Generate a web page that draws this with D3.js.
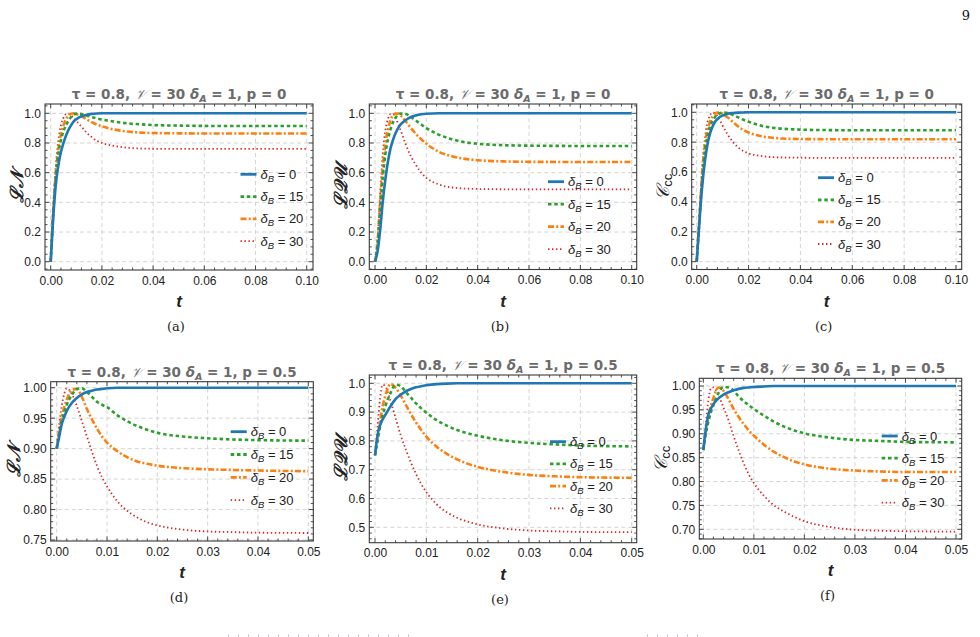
<!DOCTYPE html>
<html><head><meta charset="utf-8">
<script src="https://cdn.jsdelivr.net/npm/d3@7"></script>
<style>body{margin:0;background:#fff}</style>
</head><body>
<svg id="chart" width="980" height="637" xmlns="http://www.w3.org/2000/svg"></svg>
<script>
// ---------- data ----------
const tP0 = [0,0.001,0.002,0.003,0.004,0.005,0.006,0.007,0.008,0.009,0.01,0.012,0.014,0.016,0.018,0.02,0.025,0.03,0.035,0.04,0.05,0.06,0.08,0.1];
const tP5 = [0,0.0005,0.001,0.0015,0.002,0.003,0.004,0.005,0.006,0.007,0.008,0.009,0.01,0.012,0.014,0.016,0.018,0.02,0.025,0.03,0.035,0.04,0.05];
const deltaB = ["0","15","20","30"];

// (a) LN, p = 0
const lnP0_0  = [0,0.30,0.52,0.65,0.74,0.80,0.85,0.89,0.92,0.945,0.96,0.98,0.99,0.996,0.999,1,1,1,1,1,1,1,1,1];
const lnP0_15 = [0,0.33,0.58,0.73,0.82,0.88,0.92,0.95,0.975,0.99,0.998,0.995,0.985,0.975,0.966,0.958,0.944,0.932,0.926,0.921,0.917,0.915,0.914,0.914];
const lnP0_20 = [0,0.34,0.60,0.76,0.86,0.92,0.96,0.985,0.997,1.0,0.995,0.98,0.96,0.94,0.925,0.912,0.89,0.877,0.87,0.867,0.865,0.864,0.864,0.864];
const lnP0_30 = [0,0.36,0.64,0.82,0.92,0.97,0.995,0.998,0.985,0.97,0.95,0.91,0.87,0.84,0.815,0.80,0.78,0.768,0.763,0.761,0.76,0.76,0.76,0.76];
// (b) LQU, p = 0
const lquP0_0  = [0,0.07,0.21,0.40,0.55,0.67,0.76,0.82,0.865,0.90,0.925,0.955,0.975,0.986,0.993,0.997,1,1,1,1,1,1,1,1];
const lquP0_15 = [0,0.12,0.35,0.56,0.72,0.82,0.89,0.94,0.97,0.99,0.998,0.995,0.975,0.95,0.925,0.90,0.855,0.825,0.805,0.795,0.785,0.782,0.78,0.78];
const lquP0_20 = [0,0.13,0.40,0.63,0.79,0.89,0.95,0.985,0.998,0.998,0.985,0.945,0.90,0.86,0.825,0.795,0.74,0.71,0.693,0.684,0.676,0.673,0.672,0.672];
const lquP0_30 = [0,0.15,0.45,0.72,0.88,0.96,0.995,0.995,0.97,0.93,0.885,0.79,0.71,0.65,0.60,0.565,0.52,0.50,0.493,0.49,0.488,0.487,0.487,0.487];
// (c) Ccc, p = 0
const cccP0_0  = [0,0.25,0.48,0.65,0.77,0.85,0.90,0.935,0.955,0.97,0.978,0.99,0.995,0.998,0.999,1,1,1,1,1,1,1,1,1];
const cccP0_15 = [0,0.27,0.53,0.72,0.83,0.90,0.94,0.967,0.984,0.994,0.999,0.995,0.982,0.966,0.95,0.937,0.91,0.895,0.888,0.884,0.881,0.88,0.88,0.88];
const cccP0_20 = [0,0.28,0.56,0.76,0.87,0.93,0.97,0.99,0.998,0.999,0.99,0.965,0.935,0.905,0.882,0.865,0.84,0.828,0.823,0.821,0.82,0.82,0.82,0.82];
const cccP0_30 = [0,0.30,0.60,0.80,0.92,0.975,0.997,0.996,0.975,0.945,0.91,0.85,0.80,0.765,0.74,0.725,0.707,0.699,0.697,0.696,0.695,0.695,0.695,0.695];
// (d) LN, p = 0.5
const lnP5_0  = [0.9,0.92,0.94,0.952,0.962,0.975,0.983,0.989,0.993,0.995,0.997,0.998,0.999,1,1,1,1,1,1,1,1,1,1];
const lnP5_15 = [0.9,0.925,0.945,0.96,0.972,0.988,0.998,0.999,0.993,0.985,0.977,0.972,0.968,0.955,0.945,0.937,0.931,0.926,0.92,0.917,0.915,0.914,0.913];
const lnP5_20 = [0.9,0.93,0.952,0.968,0.98,0.996,0.998,0.985,0.965,0.948,0.933,0.92,0.91,0.896,0.886,0.879,0.875,0.872,0.868,0.866,0.865,0.864,0.863];
const lnP5_30 = [0.9,0.94,0.97,0.99,0.999,0.99,0.97,0.945,0.92,0.895,0.872,0.853,0.838,0.814,0.798,0.787,0.779,0.774,0.767,0.764,0.763,0.762,0.7615];
// (e) LQU, p = 0.5
const lquP5_0  = [0.75,0.82,0.855,0.875,0.89,0.92,0.945,0.96,0.972,0.98,0.986,0.99,0.993,0.997,0.999,1,1,1,1,1,1,1,1];
const lquP5_15 = [0.75,0.80,0.85,0.89,0.92,0.965,0.995,0.99,0.97,0.95,0.93,0.913,0.898,0.872,0.853,0.838,0.827,0.818,0.802,0.793,0.788,0.784,0.781];
const lquP5_20 = [0.75,0.81,0.87,0.92,0.955,0.997,0.985,0.958,0.925,0.893,0.864,0.838,0.815,0.78,0.755,0.736,0.721,0.71,0.692,0.682,0.677,0.674,0.672];
const lquP5_30 = [0.75,0.85,0.95,0.995,0.99,0.94,0.88,0.82,0.77,0.725,0.685,0.65,0.622,0.58,0.552,0.533,0.52,0.51,0.496,0.489,0.486,0.484,0.483];
// (f) Ccc, p = 0.5
const cccP5_0  = [0.866,0.91,0.94,0.953,0.962,0.974,0.982,0.987,0.991,0.994,0.996,0.997,0.998,0.999,1,1,1,1,1,1,1,1,1];
const cccP5_15 = [0.866,0.90,0.925,0.945,0.96,0.985,0.998,0.997,0.99,0.978,0.968,0.96,0.952,0.938,0.925,0.915,0.907,0.901,0.892,0.887,0.885,0.883,0.882];
const cccP5_20 = [0.866,0.905,0.935,0.958,0.975,0.997,0.99,0.972,0.952,0.935,0.92,0.907,0.896,0.877,0.862,0.851,0.842,0.836,0.827,0.823,0.821,0.82,0.82];
const cccP5_30 = [0.866,0.92,0.97,0.995,0.997,0.98,0.955,0.928,0.895,0.865,0.838,0.815,0.797,0.77,0.75,0.737,0.726,0.717,0.705,0.699,0.697,0.696,0.695];

const xTicksP0 = [0,0.02,0.04,0.06,0.08,0.1];
const xTicksP5 = [0,0.01,0.02,0.03,0.04,0.05];
const yTicksP0 = [0,0.2,0.4,0.6,0.8,1.0];
const yTicksLN5 = [0.75,0.8,0.85,0.9,0.95,1.0];
const yTicksLQU5 = [0.5,0.6,0.7,0.8,0.9,1.0];
const yTicksCCC5 = [0.7,0.75,0.8,0.85,0.9,0.95,1.0];

// ---------- styles ----------
const colors = ["#1f77b4","#2ca02c","#ff7f0e","#d62728"];
const dashes = [null,"3.5,2.8","6,2.2,2,2.2","1.4,2.6"];
const widths = [2.6,2.6,2.6,1.8];

const panels = [
  {cap:"(a)", ylab:"LN", p:"0", t:tP0, data:[lnP0_0,lnP0_15,lnP0_20,lnP0_30], xt:xTicksP0, yt:yTicksP0, xf:".2f", yf:".1f", xm:0.004, ym:0.05,
   frame:[45,313,104,270], xr:[50.7,306.7], yr:[261.7,113.3], xd:[0,0.1], yd:[0,1], leg:[240.5,174.3,22.3], ylx:-29},
  {cap:"(b)", ylab:"LQU", p:"0", t:tP0, data:[lquP0_0,lquP0_15,lquP0_20,lquP0_30], xt:xTicksP0, yt:yTicksP0, xf:".2f", yf:".1f", xm:0.004, ym:0.05,
   frame:[369.3,636.7,104,269.5], xr:[375,631.7], yr:[261.7,113.3], xd:[0,0.1], yd:[0,1], leg:[548,181.7,22.5], ylx:-29},
  {cap:"(c)", ylab:"C", p:"0", t:tP0, data:[cccP0_0,cccP0_15,cccP0_20,cccP0_30], xt:xTicksP0, yt:yTicksP0, xf:".2f", yf:".1f", xm:0.004, ym:0.05,
   frame:[691.7,961.7,104,269.5], xr:[696.7,956], yr:[261.7,112.3], xd:[0,0.1], yd:[0,1], leg:[818,177.7,22.1], ylx:-30},
  {cap:"(d)", ylab:"LN", p:"0.5", t:tP5, data:[lnP5_0,lnP5_15,lnP5_20,lnP5_30], xt:xTicksP5, yt:yTicksLN5, xf:".2f", yf:".2f", xm:0.002, ym:0.01,
   frame:[50.7,313.3,381.7,541], xr:[56.7,308.3], yr:[540,387.7], xd:[0,0.05], yd:[0.75,1], leg:[230.7,431.7,22.8], ylx:-37},
  {cap:"(e)", ylab:"LQU", p:"0.5", t:tP5, data:[lquP5_0,lquP5_15,lquP5_20,lquP5_30], xt:xTicksP5, yt:yTicksLQU5, xf:".2f", yf:".1f", xm:0.002, ym:0.02,
   frame:[369.3,636.7,375,542.7], xr:[375,631.7], yr:[527.3,383.3], xd:[0,0.05], yd:[0.5,1], leg:[550,441.7,22.2], ylx:-29},
  {cap:"(f)", ylab:"C", p:"0.5", t:tP5, data:[cccP5_0,cccP5_15,cccP5_20,cccP5_30], xt:xTicksP5, yt:yTicksCCC5, xf:".2f", yf:".2f", xm:0.002, ym:0.01,
   frame:[699.3,961.7,378.3,539], xr:[703.3,956], yr:[529.3,386], xd:[0,0.05], yd:[0.7,1], leg:[881.7,436,22.2], ylx:-39}
];

const svg = d3.select("#chart");
const sans = "'Liberation Sans', Arial, sans-serif";
const serif = "'DejaVu Serif', 'Liberation Serif', serif";

// page number
svg.append("text").attr("x",970).attr("y",20).attr("text-anchor","end")
  .attr("font-family",serif).attr("font-size",13).attr("fill","#111").text("9");

// faint link-box remnants at the bottom edge
[[228,415],[647,703]].forEach(([a,b])=>{
  svg.append("line").attr("x1",a).attr("x2",b).attr("y1",635.5).attr("y2",635.5)
    .attr("stroke","#b8b8f0").attr("stroke-width",2).attr("stroke-dasharray","1,9");
});

panels.forEach((P,pi)=>{
  const [fx0,fx1,fy0,fy1] = P.frame;
  const x = d3.scaleLinear().domain(P.xd).range(P.xr);
  const y = d3.scaleLinear().domain(P.yd).range(P.yr);
  const g = svg.append("g");
  const clipId = "clip"+pi;
  svg.append("clipPath").attr("id",clipId).append("rect")
    .attr("x",fx0).attr("y",fy0).attr("width",fx1-fx0).attr("height",fy1-fy0);

  // grid
  const grid = g.append("g").attr("stroke","#cfcfcf").attr("stroke-width",0.9).attr("stroke-dasharray","4,3");
  P.xt.forEach(v=>grid.append("line").attr("x1",x(v)).attr("x2",x(v)).attr("y1",fy0).attr("y2",fy1));
  P.yt.forEach(v=>grid.append("line").attr("y1",y(v)).attr("y2",y(v)).attr("x1",fx0).attr("x2",fx1));

  // curves
  const line = d3.line().x((d,i)=>x(P.t[i])).y(d=>y(d)).curve(d3.curveMonotoneX);
  const cg = g.append("g").attr("clip-path",`url(#${clipId})`);
  [3,2,1,0].forEach(k=>{
    cg.append("path").datum(P.data[k]).attr("d",line).attr("fill","none")
      .attr("stroke",colors[k]).attr("stroke-width",widths[k])
      .attr("stroke-dasharray",dashes[k]);
  });

  // frame
  g.append("rect").attr("x",fx0).attr("y",fy0).attr("width",fx1-fx0).attr("height",fy1-fy0)
    .attr("fill","none").attr("stroke","#3a3a3a").attr("stroke-width",1.1);

  // ticks (inward, all four sides)
  const tk = g.append("g").attr("stroke","#3a3a3a").attr("stroke-width",0.9);
  const xMin = x.invert(fx0), xMax = x.invert(fx1);
  const yMin = y.invert(fy1), yMax = y.invert(fy0);
  d3.range(Math.ceil(xMin/P.xm-1e-6), Math.floor(xMax/P.xm+1e-6)+1).forEach(i=>{
    const v=i*P.xm; const major = P.xt.some(m=>Math.abs(m-v)<1e-9); const L = major?4.5:2.5;
    tk.append("line").attr("x1",x(v)).attr("x2",x(v)).attr("y1",fy1).attr("y2",fy1-L);
    tk.append("line").attr("x1",x(v)).attr("x2",x(v)).attr("y1",fy0).attr("y2",fy0+L);
  });
  d3.range(Math.ceil(yMin/P.ym-1e-6), Math.floor(yMax/P.ym+1e-6)+1).forEach(i=>{
    const v=i*P.ym; const major = P.yt.some(m=>Math.abs(m-v)<1e-9); const L = major?4.5:2.5;
    tk.append("line").attr("y1",y(v)).attr("y2",y(v)).attr("x1",fx0).attr("x2",fx0+L);
    tk.append("line").attr("y1",y(v)).attr("y2",y(v)).attr("x1",fx1).attr("x2",fx1-L);
  });

  // tick labels via d3 axes (lines hidden)
  const xAxis = d3.axisBottom(x).tickValues(P.xt).tickFormat(d3.format(P.xf)).tickSize(0).tickPadding(6);
  const ax = g.append("g").attr("transform",`translate(0,${fy1})`).call(xAxis);
  const yAxis = d3.axisLeft(y).tickValues(P.yt).tickFormat(d3.format(P.yf)).tickSize(0).tickPadding(4);
  const ay = g.append("g").attr("transform",`translate(${fx0},0)`).call(yAxis);
  [ax,ay].forEach(a=>{
    a.select(".domain").remove();
    a.selectAll("text").attr("font-family",sans).attr("font-size",12).attr("fill","#222");
  });

  // title
  const cx = (fx0+fx1)/2;
  const tt = g.append("text").attr("x",cx).attr("y",fy0-5).attr("text-anchor","middle")
    .attr("font-family","'DejaVu Sans', sans-serif").attr("font-size",13.5).attr("font-weight","bold").attr("fill","#6b6b6b");
  tt.append("tspan").text("τ = 0.8, ");
  tt.append("tspan").attr("font-family","'DejaVu Serif', serif").attr("font-style","italic").attr("font-weight","normal").text("𝒱");
  tt.append("tspan").text(" = 30 ");
  tt.append("tspan").attr("font-style","italic").text("δ");
  tt.append("tspan").attr("font-style","italic").attr("font-size",9.5).attr("dy",3).text("A");
  tt.append("tspan").attr("dy",-3).text(" = 1, p = " + P.p);

  // x label
  g.append("text").attr("x",cx).attr("y",fy1+37).attr("text-anchor","middle")
    .attr("font-family",sans).attr("font-size",17).attr("font-weight","bold").attr("font-style","italic")
    .attr("fill","#222").text("t");

  // y label (centred on its own middle line)
  const yl = g.append("text").attr("transform",`translate(${fx0+P.ylx},${(fy0+fy1)/2}) rotate(-90)`)
    .attr("text-anchor","middle").attr("dominant-baseline","central")
    .attr("font-family","'DejaVu Serif', serif").attr("font-size",18)
    .attr("font-style","italic").attr("font-weight","bold").attr("fill","#222");
  if (P.ylab==="LN") { yl.text("ℒ𝒩"); }
  else if (P.ylab==="LQU") { yl.text("ℒ𝒬𝒰"); }
  else {
    yl.attr("font-weight","normal").attr("font-size",18);
    yl.append("tspan").text("𝒞");
    yl.append("tspan").attr("font-family",sans).attr("font-style","normal").attr("font-size",13).attr("dy",5).text("cc");
  }

  // caption
  g.append("text").attr("x",cx-3).attr("y",fy1+61).attr("text-anchor","middle")
    .attr("font-family",serif).attr("font-size",13).attr("fill","#222").text(P.cap);

  // legend
  const [lx,ly,ls] = P.leg;
  deltaB.forEach((d,k)=>{
    const yy = ly + k*ls;
    g.append("line").attr("x1",lx).attr("x2",lx+16).attr("y1",yy).attr("y2",yy)
      .attr("stroke",colors[k]).attr("stroke-width",k===3?1.8:2.8).attr("stroke-dasharray",dashes[k]);
    const tx = g.append("text").attr("x",lx+20).attr("y",yy+4.5).attr("font-family",sans)
      .attr("font-size",13).attr("fill","#222");
    tx.append("tspan").attr("font-style","italic").text("δ");
    tx.append("tspan").attr("font-style","italic").attr("font-size",9.5).attr("dy",3).text("B");
    tx.append("tspan").attr("dy",-3).text(" = " + d);
  });
});
</script>
</body></html>
